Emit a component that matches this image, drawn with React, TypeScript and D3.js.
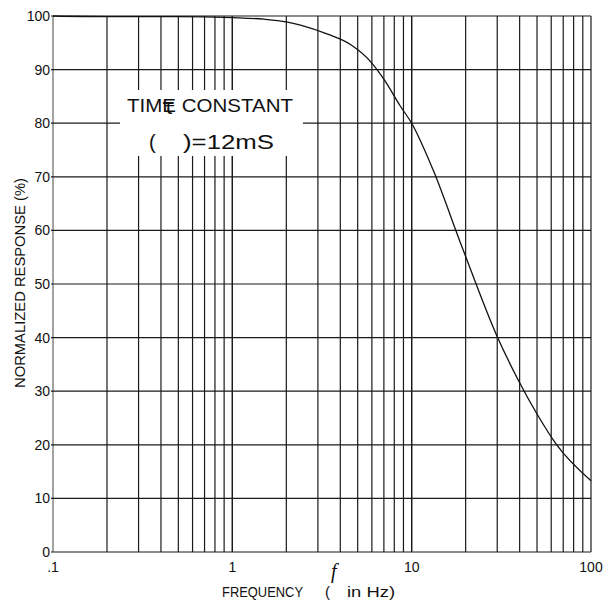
import React from "react";
import * as d3 from "d3";

const W = 611;
const H = 600;
const margin = { left: 53, right: 20, top: 16, bottom: 48 };

// Frequency (Hz) and normalized response (%)
const frequency = [0.1, 0.2, 0.5, 1, 1.5, 2, 2.4, 3.4, 4.6, 5.9, 7.1, 8.6, 10, 13.2, 18.6, 19.4, 29.8, 39.4, 49.9, 64.4, 100];
const response = [100, 99.9, 99.9, 99.7, 99.4, 98.9, 98.3, 96.6, 94.6, 91.5, 87.9, 83.3, 80, 71.2, 57.9, 56.3, 40.4, 32.0, 25.8, 20.0, 13.3];

const yTicks = [0, 10, 20, 30, 40, 50, 60, 70, 80, 90, 100];
const xTickLabels = [".1", "1", "10", "100"];
const xTickValues = [0.1, 1, 10, 100];

const FONT = "'Liberation Sans', Arial, sans-serif";

export default function App() {
  const x = d3
    .scaleLog()
    .domain([0.1, 100])
    .range([margin.left, W - margin.right]);
  const y = d3
    .scaleLinear()
    .domain([0, 100])
    .range([H - margin.bottom, margin.top]);

  const minor: number[] = [];
  [0.1, 1, 10].forEach((dec) => {
    for (let k = 1; k <= 10; k++) minor.push(dec * k);
  });

  const pts = frequency.map((f, i) => [f, response[i]] as [number, number]);
  const line = d3
    .line<[number, number]>()
    .x((d) => x(d[0]))
    .y((d) => y(d[1]))
    .curve(d3.curveMonotoneX);

  const stroke = "#1a1a1a";

  return (
    <svg
      width={W}
      height={H}
      style={{ position: "absolute", left: 0, top: 0, background: "#fff" }}
    >
      <rect x={0} y={0} width={W} height={H} fill="#fff" />
      {/* vertical grid */}
      {minor.map((f, i) => (
        <line
          key={"v" + i}
          x1={x(f)}
          x2={x(f)}
          y1={y(0)}
          y2={y(100)}
          stroke={i === 0 ? "#666" : stroke}
          strokeWidth={1.2}
        />
      ))}
      {/* horizontal grid */}
      {yTicks.map((t) => (
        <line
          key={"h" + t}
          x1={x(0.1) - 2}
          x2={x(100)}
          y1={y(t)}
          y2={y(t)}
          stroke={stroke}
          strokeWidth={1.2}
        />
      ))}
      {/* annotation box */}
      <rect x={120} y={90} width={183} height={66} fill="#fff" />
      <text
        x={127}
        y={112}
        fontFamily={FONT}
        fontSize={19}
        textLength={166}
        lengthAdjust="spacingAndGlyphs"
        fill="#111"
      >
        TIME CONSTANT
      </text>
      <text x={162} y={114} fontFamily="'DejaVu Sans', sans-serif" fontSize={21} fill="#111">
        τ
      </text>
      <text x={149} y={149} fontFamily={FONT} fontSize={20} fill="#111">
        (
      </text>
      <text
        x={183}
        y={149}
        fontFamily={FONT}
        fontSize={20}
        textLength={91}
        lengthAdjust="spacingAndGlyphs"
        fill="#111"
      >
        )=12mS
      </text>
      {/* curve */}
      <path d={line(pts) || ""} fill="none" stroke="#111" strokeWidth={1.3} />
      {/* y tick labels */}
      {yTicks.map((t) => (
        <text
          key={"yl" + t}
          x={50}
          y={y(t) + 5}
          textAnchor="end"
          fontFamily={FONT}
          fontSize={14}
          fill="#111"
        >
          {t}
        </text>
      ))}
      {/* x tick labels */}
      {xTickValues.map((v, i) => (
        <text
          key={"xl" + i}
          x={x(v)}
          y={572}
          textAnchor="middle"
          fontFamily={FONT}
          fontSize={14}
          fill="#111"
        >
          {xTickLabels[i]}
        </text>
      ))}
      {/* axis titles */}
      <text
        x={222}
        y={597}
        fontFamily={FONT}
        fontSize={15}
        textLength={81}
        lengthAdjust="spacingAndGlyphs"
        fill="#111"
      >
        FREQUENCY
      </text>
      <text x={325} y={597} fontFamily={FONT} fontSize={15} fill="#111">
        (
      </text>
      <text
        x={331}
        y={578}
        fontFamily="'Liberation Serif', serif"
        fontStyle="italic"
        fontSize={20}
        fill="#111"
      >
        f
      </text>
      <text
        x={347}
        y={597}
        fontFamily={FONT}
        fontSize={15}
        textLength={48}
        lengthAdjust="spacingAndGlyphs"
        fill="#111"
      >
        in Hz)
      </text>
      <text
        transform={`translate(25, 283) rotate(-90)`}
        textAnchor="middle"
        fontFamily={FONT}
        fontSize={14}
        textLength={210}
        lengthAdjust="spacingAndGlyphs"
        fill="#111"
      >
        NORMALIZED RESPONSE (%)
      </text>
    </svg>
  );
}
